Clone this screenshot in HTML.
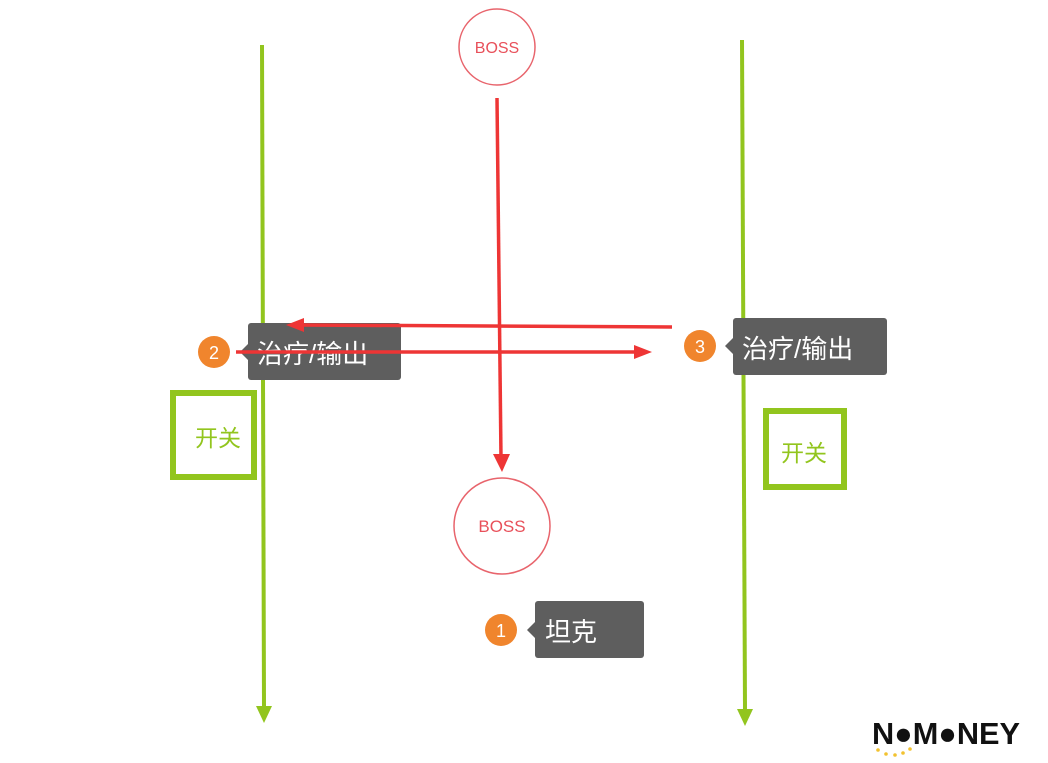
<!DOCTYPE html>
<html><head><meta charset="utf-8"><style>
html,body{margin:0;padding:0;background:#fff;width:1048px;height:763px;overflow:hidden}
svg{display:block}
text{font-family:"Liberation Sans","Noto Sans CJK SC",sans-serif}
</style></head><body>
<svg width="1048" height="763" viewBox="0 0 1048 763" xmlns="http://www.w3.org/2000/svg">
<line x1="262" y1="45" x2="264" y2="708" stroke="#92c51e" stroke-width="4"/>
<polygon points="256,706 272,706 264,723" fill="#92c51e"/>
<line x1="742" y1="40" x2="745" y2="711" stroke="#92c51e" stroke-width="4"/>
<polygon points="737,709 753,709 745,726" fill="#92c51e"/>
<rect x="173" y="393" width="81" height="84" fill="none" stroke="#92c51e" stroke-width="6"/>
<text x="218" y="446" font-size="23" fill="#92c51e" text-anchor="middle">开关</text>
<rect x="766" y="411" width="78" height="76" fill="none" stroke="#92c51e" stroke-width="6"/>
<text x="804" y="461" font-size="23" fill="#92c51e" text-anchor="middle">开关</text>
<circle cx="497" cy="47" r="38" fill="#fff" stroke="#e8646c" stroke-width="1.5"/>
<text x="497" y="53" font-size="16" fill="#e8505a" text-anchor="middle">BOSS</text>
<circle cx="502" cy="526" r="48" fill="#fff" stroke="#e8646c" stroke-width="1.5"/>
<text x="502" y="532" font-size="17" fill="#e8505a" text-anchor="middle">BOSS</text>
<rect x="248" y="323" width="153" height="57" rx="3" fill="#5e5e5e"/>
<polygon points="248,344 240,352 248,360" fill="#5e5e5e"/>
<text x="257" y="363" font-size="26" fill="#fff">治疗/输出</text>
<circle cx="214" cy="352" r="16" fill="#f0852d"/>
<text x="214" y="359" font-size="18" fill="#fff" text-anchor="middle">2</text>
<rect x="733" y="318" width="154" height="57" rx="3" fill="#5e5e5e"/>
<polygon points="733,338 725,346 733,354" fill="#5e5e5e"/>
<text x="742" y="358" font-size="26" fill="#fff">治疗/输出</text>
<circle cx="700" cy="346" r="16" fill="#f0852d"/>
<text x="700" y="353" font-size="18" fill="#fff" text-anchor="middle">3</text>
<rect x="535" y="601" width="109" height="57" rx="3" fill="#5e5e5e"/>
<polygon points="535,622 527,630 535,638" fill="#5e5e5e"/>
<text x="545" y="641" font-size="26" fill="#fff">坦克</text>
<circle cx="501" cy="630" r="16" fill="#f0852d"/>
<text x="501" y="637" font-size="18" fill="#fff" text-anchor="middle">1</text>
<line x1="497" y1="98" x2="501" y2="458" stroke="#ee3535" stroke-width="3.5"/>
<polygon points="493,454 510,454 502,472" fill="#ee3535"/>
<line x1="672" y1="327" x2="300" y2="325" stroke="#ee3535" stroke-width="3.5"/>
<polygon points="304,318 304,332 286,325" fill="#ee3535"/>
<line x1="236" y1="352" x2="636" y2="352" stroke="#ee3535" stroke-width="3.5"/>
<polygon points="634,345 634,359 652,352" fill="#ee3535"/>
<text x="872" y="744" font-size="31" font-weight="bold" fill="#111" textLength="148" lengthAdjust="spacingAndGlyphs">N●M●NEY</text>
<g fill="#f2c230"><circle cx="878" cy="750" r="1.8"/><circle cx="886" cy="754" r="1.8"/><circle cx="895" cy="755" r="1.8"/><circle cx="903" cy="753" r="1.8"/><circle cx="910" cy="749" r="1.8"/></g>
</svg>
</body></html>
